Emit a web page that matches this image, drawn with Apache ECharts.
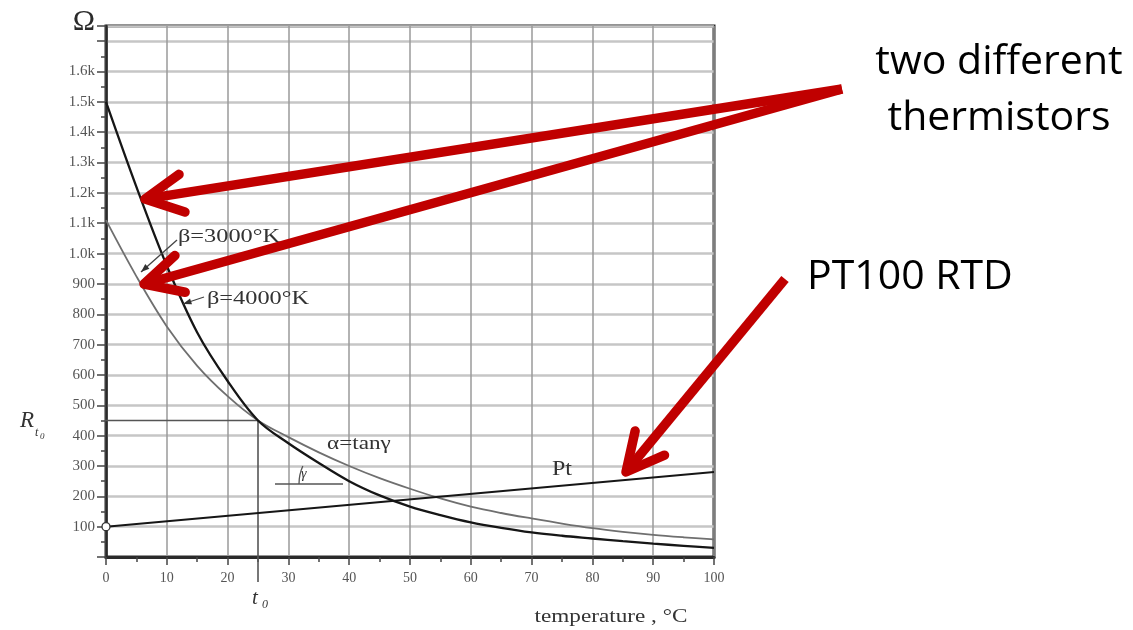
<!DOCTYPE html>
<html>
<head>
<meta charset="utf-8">
<script src="https://cdn.jsdelivr.net/npm/echarts@6/dist/echarts.min.js"></script>
<style>
  html, body { margin: 0; padding: 0; background: #fff; }
  #chart { width: 1133px; height: 630px; }
</style>
</head>
<body>
<div id="chart"></div>
<script>
// Temperature samples, °C
const temps = [0, 5, 10, 15, 20, 25, 30, 35, 40, 45, 50, 55, 60, 65, 70, 75, 80, 85, 90, 95, 100];
// NTC thermistor, beta = 4000 K (ohms)
const rBeta4000 = [1500, 1220, 960, 740, 580, 450, 375, 310, 250, 203, 166, 138, 114, 96, 81, 70, 61, 52, 44, 37, 30];
// NTC thermistor, beta = 3000 K (ohms)
const rBeta3000 = [1110, 925, 760, 630, 530, 450, 395, 345, 300, 260, 225, 193, 166, 145, 127, 110, 95, 83, 73, 65, 58];
// Platinum RTD (straight line)
const ptTemps = [0, 100];
const rPt = [100, 280];
// Reference point t0 / R(t0)
const t0 = 25;
const rT0 = 450;
// Axis ticks
const xTicks = { min: 0, max: 100, step: 10 };
const yTicks = { min: 0, max: 1750, step: 100 };

const serif = '"Liberation Serif", "DejaVu Serif", serif';
const sans = '"Open Sans", "Liberation Sans", sans-serif';
const RED = '#c00000';
const INK = '#333';

const chart = echarts.init(document.getElementById('chart'), null, { renderer: 'canvas' });

const yLabel = v => {
  if (v === 0 || v >= 1700) return '';
  return v >= 1000 ? (v / 1000).toFixed(1) + 'k' : String(v);
};

chart.setOption({
  animation: false,
  backgroundColor: '#fff',
  grid: {
    left: 106, right: 419, top: 26, bottom: 73,
    show: true, borderColor: '#2a2a2a', borderWidth: 3, backgroundColor: 'transparent'
  },
  xAxis: {
    type: 'value', min: xTicks.min, max: xTicks.max, interval: xTicks.step,
    axisLine: { show: true, onZero: false, lineStyle: { color: '#2a2a2a', width: 3 } },
    axisTick: { show: true, inside: false, length: 8, lineStyle: { color: '#444', width: 1.5 } },
    minorTick: { show: true, splitNumber: 2, length: 5, lineStyle: { color: '#444', width: 1.5 } },
    axisLabel: { color: '#555', fontFamily: serif, fontSize: 14, margin: 14 },
    splitLine: { show: true, lineStyle: { color: '#9a9a9a', width: 1.5 } }
  },
  yAxis: {
    type: 'value', min: yTicks.min, max: yTicks.max, interval: yTicks.step,
    axisLine: { show: true, onZero: false, lineStyle: { color: '#2a2a2a', width: 2.5 } },
    axisTick: { show: true, inside: false, length: 9, lineStyle: { color: '#444', width: 1.5 } },
    minorTick: { show: true, splitNumber: 2, length: 5, lineStyle: { color: '#444', width: 1.5 } },
    axisLabel: { color: '#555', fontFamily: serif, fontSize: 15, margin: 11, formatter: yLabel },
    splitLine: { show: true, lineStyle: { color: '#c6c6c6', width: 2.5 } }
  },
  series: [
    {
      name: 'R(t0) guide', type: 'line', clip: false, silent: true, symbol: 'none', z: 3,
      data: [[-10.3, rT0], [t0, rT0]],
      lineStyle: { color: '#555', width: 1.6 }
    },
    {
      name: 't0 guide', type: 'line', clip: false, silent: true, symbol: 'none', z: 3,
      data: [[t0, rT0], [t0, -82]],
      lineStyle: { color: '#555', width: 1.6 }
    },
    {
      name: 'β=3000°K', type: 'line', smooth: 0.35, symbol: 'none', z: 4,
      data: temps.map((t, i) => [t, rBeta3000[i]]),
      lineStyle: { color: '#6f6f6f', width: 1.8 }
    },
    {
      name: 'β=4000°K', type: 'line', smooth: 0.35, symbol: 'none', z: 5,
      data: temps.map((t, i) => [t, rBeta4000[i]]),
      lineStyle: { color: '#161616', width: 2.3 }
    },
    {
      name: 'Pt', type: 'line', z: 6, showSymbol: true,
      data: ptTemps.map((t, i) => ({
        value: [t, rPt[i]],
        symbol: i === 0 ? 'circle' : 'none',
        symbolSize: 8
      })),
      itemStyle: { color: '#fff', borderColor: '#333', borderWidth: 1.3 },
      lineStyle: { color: '#161616', width: 2 }
    }
  ]
});

// ---- annotations ----
function arrow(from, to, w, headLen, headAng) {
  const a = Math.atan2(from[1] - to[1], from[0] - to[0]);
  const ux = Math.cos(a), uy = Math.sin(a);
  const arm1 = [to[0] + headLen * Math.cos(a + headAng), to[1] + headLen * Math.sin(a + headAng)];
  const arm2 = [to[0] + headLen * Math.cos(a - headAng), to[1] + headLen * Math.sin(a - headAng)];
  const shaftEnd = [to[0] + ux * w * 0.6, to[1] + uy * w * 0.6];
  return [
    { type: 'line', z: 100, shape: { x1: from[0], y1: from[1], x2: shaftEnd[0], y2: shaftEnd[1] },
      style: { stroke: RED, lineWidth: w, lineCap: 'butt' } },
    { type: 'polyline', z: 100, shape: { points: [arm1, to, arm2] },
      style: { stroke: RED, lineWidth: w, lineJoin: 'round', lineCap: 'round', fill: null } }
  ];
}

function smallHead(from, to, len) {
  const a = Math.atan2(from[1] - to[1], from[0] - to[0]);
  const p1 = [to[0] + len * Math.cos(a + 0.35), to[1] + len * Math.sin(a + 0.35)];
  const p2 = [to[0] + len * Math.cos(a - 0.35), to[1] + len * Math.sin(a - 0.35)];
  return { type: 'polygon', z: 50, shape: { points: [to, p1, p2] }, style: { fill: '#333' } };
}

function serifText(txt, x, y, size, opts) {
  opts = opts || {};
  return {
    type: 'text', z: 60, x: x, y: y, scaleX: opts.scaleX || 1,
    style: {
      text: txt, fill: opts.fill || INK,
      font: (opts.italic ? 'italic ' : '') + size + 'px ' + serif,
      align: opts.align || 'left', verticalAlign: 'middle'
    }
  };
}

const lead1a = [177, 240], lead1b = [141, 272];
const lead2a = [204, 297], lead2b = [183, 304];

const graphics = [
  // unit of the vertical axis
  serifText('Ω', 84, 22, 30, { align: 'center', fill: '#2a2a2a' }),
  // R(t0) label
  serifText('R', 20, 421, 23, { italic: true }),
  serifText('t', 35, 433, 12, { italic: true }),
  serifText('0', 40, 437, 9, { italic: true }),
  // t0 label
  serifText('t', 252, 598, 21, { italic: true }),
  serifText('0', 262, 605, 12, { italic: true }),
  // x axis name
  serifText('temperature , °C', 611, 617, 19, { align: 'center', scaleX: 1.22 }),
  // curve labels
  serifText('β=3000°K', 178, 237, 19, { scaleX: 1.28 }),
  serifText('β=4000°K', 207, 299, 19, { scaleX: 1.28 }),
  serifText('α=tanγ', 327, 444, 19, { scaleX: 1.22 }),
  serifText('Pt', 552, 470, 20, { scaleX: 1.2 }),
  serifText('γ', 301, 474, 14, { italic: true }),
  // leader lines
  { type: 'line', z: 50, shape: { x1: lead1a[0], y1: lead1a[1], x2: lead1b[0], y2: lead1b[1] },
    style: { stroke: '#444', lineWidth: 1.3 } },
  smallHead(lead1a, lead1b, 9),
  { type: 'line', z: 50, shape: { x1: lead2a[0], y1: lead2a[1], x2: lead2b[0], y2: lead2b[1] },
    style: { stroke: '#444', lineWidth: 1.3 } },
  smallHead(lead2a, lead2b, 9),
  // slope angle marker
  { type: 'line', z: 50, shape: { x1: 275, y1: 484, x2: 343, y2: 484 },
    style: { stroke: '#555', lineWidth: 1.4 } },
  { type: 'arc', z: 50, shape: { cx: 343, cy: 484, r: 44, startAngle: Math.PI, endAngle: Math.PI + 0.42, clockwise: true },
    style: { stroke: '#555', lineWidth: 1.3, fill: null } },
  // callout texts
  { type: 'text', z: 100, x: 999, y: 62,
    style: { text: 'two different', fill: '#000', font: '41px ' + sans, align: 'center', verticalAlign: 'middle' } },
  { type: 'text', z: 100, x: 999, y: 118,
    style: { text: 'thermistors', fill: '#000', font: '41px ' + sans, align: 'center', verticalAlign: 'middle' } },
  { type: 'text', z: 100, x: 807, y: 277,
    style: { text: 'PT100 RTD', fill: '#000', font: '41px ' + sans, align: 'left', verticalAlign: 'middle' } }
].concat(
  arrow([842, 89], [145, 199], 9.5, 42, 0.47),
  arrow([842, 89], [144, 284], 9.5, 42, 0.47),
  arrow([785, 279], [626, 472], 9.5, 42, 0.47)
);

chart.setOption({ graphic: graphics });
</script>
</body>
</html>
